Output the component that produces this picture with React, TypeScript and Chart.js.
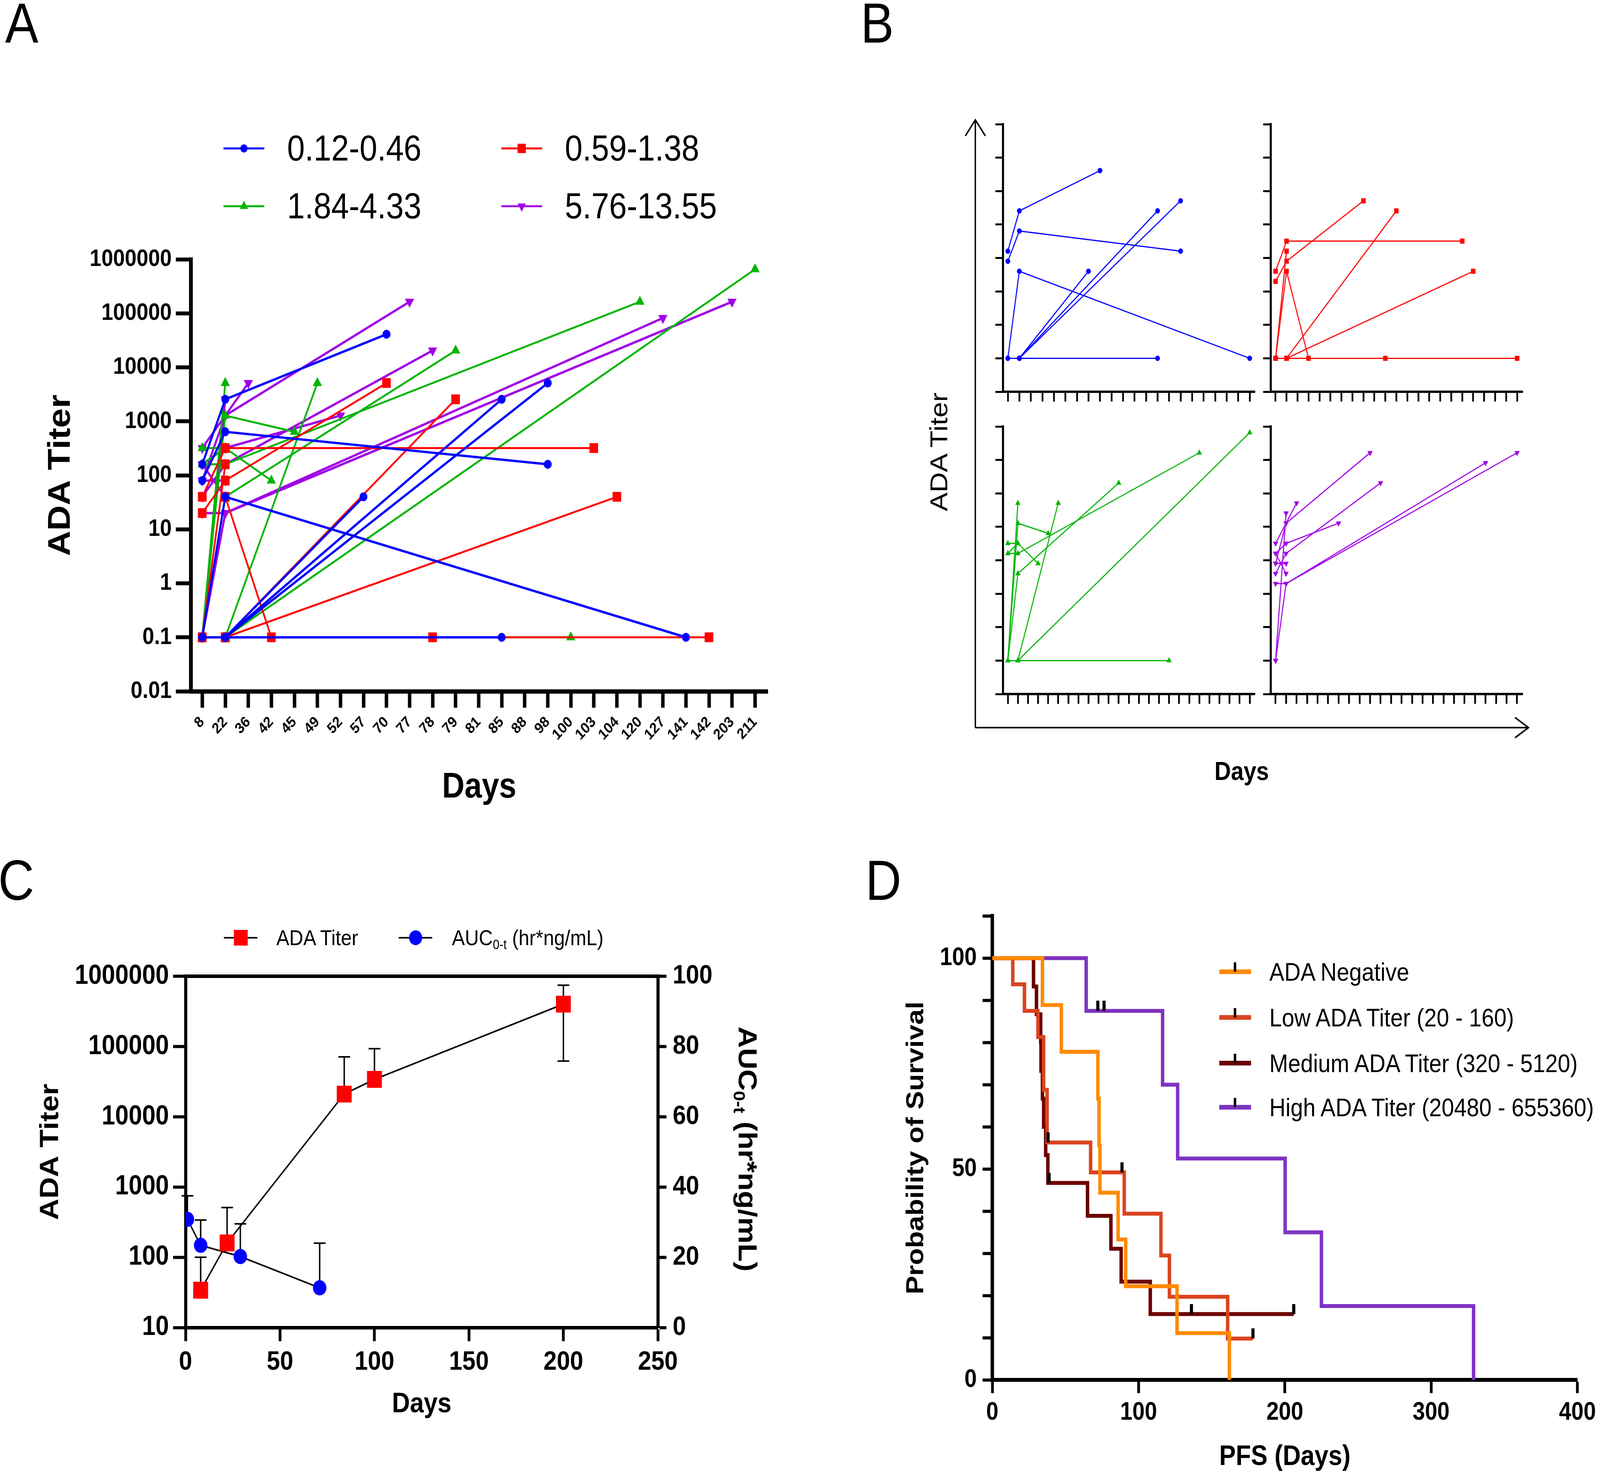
import React, { useEffect, useRef, useState } from 'react';
import Chart from 'chart.js/auto';

const FONT = "'Liberation Sans', Arial, Helvetica, sans-serif";
const INK = '#000000';
const PAGE_W = 4631;
const PAGE_H = 3774;

// ---------- panels A and B: ADA titer per patient ----------
const DAYS = [8, 22, 36, 42, 45, 49, 52, 57, 70, 77, 78, 79, 81, 85, 88, 98, 100, 103, 104, 120, 127, 141, 142, 203, 211];
const TITER_TICKS = [0.01, 0.1, 1, 10, 100, 1000, 10000, 100000, 1000000];

const GROUP_LABELS = ['0.12-0.46', '0.59-1.38', '1.84-4.33', '5.76-13.55'];
const GROUP_COLORS = ['#0000FF', '#FF0000', '#00B400', '#A000E6'];
const GROUP_MARKERS = ['circle', 'rect', 'triangle', 'triangle'];
const GROUP_MARKER_ROT = [0, 0, 0, 180];

// [day, titer] per patient, 0.1 = negative
const BLUE_PATIENTS = [
  [[8, 0.1], [22, 0.1], [85, 0.1]],
  [[8, 0.1], [22, 40], [141, 0.1]],
  [[8, 160], [22, 2560], [70, 40960]],
  [[8, 80], [22, 640], [98, 160]],
  [[22, 0.1], [57, 40]],
  [[22, 0.1], [85, 2560]],
  [[22, 0.1], [98, 5120]],
];
const RED_PATIENTS = [
  [[8, 40], [22, 320], [103, 320]],
  [[8, 20], [22, 80], [70, 5120]],
  [[8, 0.1], [22, 160]],
  [[8, 0.1], [22, 40], [42, 0.1]],
  [[22, 0.1], [79, 2560]],
  [[22, 0.1], [104, 40]],
  [[8, 0.1], [22, 0.1], [78, 0.1]],
  [[22, 0.1], [142, 0.1]],
];
const GREEN_PATIENTS = [
  [[8, 320], [22, 320], [42, 80]],
  [[8, 160], [22, 160], [120, 163840]],
  [[8, 0.1], [22, 40], [79, 20480]],
  [[8, 0.1], [22, 5120]],
  [[8, 0.1], [22, 1280], [45, 640]],
  [[22, 0.1], [49, 5120]],
  [[22, 0.1], [211, 655360]],
  [[8, 0.1], [22, 0.1], [100, 0.1]],
  [[8, 160], [22, 320]],
];
const PURPLE_PATIENTS = [
  [[8, 320], [22, 1280], [77, 163840]],
  [[8, 0.1], [22, 2560]],
  [[8, 80], [22, 1280], [36, 5120]],
  [[8, 160], [22, 320], [52, 1280]],
  [[8, 40], [22, 160], [78, 20480]],
  [[8, 0.1], [22, 20], [127, 81920]],
  [[8, 20], [22, 20], [203, 163840]],
  [[8, 80], [22, 80]],
  [[8, 160], [22, 40]],
];
const GROUPS = [BLUE_PATIENTS, RED_PATIENTS, GREEN_PATIENTS, PURPLE_PATIENTS];

// ---------- panel C ----------
const ADA_DAYS = [8, 22, 84, 100, 200];
const ADA_MEAN = [34, 160, 21000, 34000, 400000];
const ADA_UPPER = [100, 510, 71000, 93000, 745000];
const ADA_LOWER = [null, null, null, null, 62000];
const AUC_DAYS = [1, 8, 29, 71];
const AUC_MEAN = [30.8, 23.4, 20.2, 11.3];
const AUC_UPPER = [37.5, 30.6, 29.5, 24.0];
const C_LOG_TICKS = [10, 100, 1000, 10000, 100000, 1000000];

// ---------- panel D ----------
const KM_LABELS = ['ADA Negative', 'Low ADA Titer (20 - 160)', 'Medium ADA Titer (320 - 5120)', 'High ADA Titer (20480 - 655360)'];
const KM_COLORS = ['#FF8A00', '#D9441E', '#6B0000', '#7E33C1'];
const NEG_T = [0, 34.3, 47.2, 72.2, 73.0, 73.6, 86, 91.2, 126.3, 162.1];
const NEG_S = [100, 88.9, 77.8, 66.7, 55.6, 44.4, 33.3, 22.2, 11.1, 0];
const LOW_T = [0, 14, 22, 31.2, 35.1, 37.5, 67.2, 90.2, 115.3, 121.1, 160.9, 178.1];
const LOW_S = [100, 93.8, 87.5, 81.3, 68.8, 56.3, 49.2, 39.4, 29.5, 19.7, 9.8, 9.8];
const LOW_CENSOR_T = [38.2, 88.6, 178.1];
const LOW_CENSOR_S = [56.3, 49.2, 9.8];
const MED_T = [0, 28.2, 30.2, 33.1, 33.3, 34.3, 35.1, 36.5, 38.0, 65.1, 81.1, 88.1, 108, 206.1];
const MED_S = [100, 93.3, 86.7, 80, 73.3, 66.7, 60, 53.3, 46.7, 38.9, 31.1, 23.3, 15.6, 15.6];
const MED_CENSOR_T = [38.8, 136.2, 206.1];
const MED_CENSOR_S = [46.7, 15.6, 15.6];
const HIGH_T = [0, 64.2, 116.4, 126.7, 200.2, 225, 329];
const HIGH_S = [100, 87.5, 70, 52.5, 35, 17.5, 0];
const HIGH_CENSOR_T = [72.2, 76.4];
const HIGH_CENSOR_S = [87.5, 87.5];

type Box = { x: number; y: number; w: number; h: number };
type Area = { l: number; t: number; r: number; b: number };

const font = (size: number, bold = true) => ({ family: FONT, size, weight: bold ? 'bold' : 'normal' });

const ChartCanvas: React.FC<{ box: Box; make: () => any }> = ({ box, make }) => {
  const ref = useRef<HTMLCanvasElement>(null);
  useEffect(() => {
    if (!ref.current) return;
    const chart = new Chart(ref.current, make());
    return () => chart.destroy();
  }, []);
  return (
    <canvas
      ref={ref}
      width={box.w}
      height={box.h}
      style={{ position: 'absolute', left: box.x, top: box.y, width: box.w, height: box.h }}
    />
  );
};

const baseOptions = (box: Box, area: Area, right = true) => ({
  animation: false,
  responsive: false,
  devicePixelRatio: 1,
  events: [],
  layout: { padding: { top: area.t - box.y, right: right ? box.x + box.w - area.r : 0, left: 0, bottom: 0 } },
  plugins: { legend: { display: false }, tooltip: { enabled: false } },
});

const tickGrid = (len: number, width: number) => ({
  display: true,
  drawOnChartArea: false,
  drawTicks: true,
  tickLength: len,
  tickWidth: width,
  tickColor: INK,
});

type TiterOpts = {
  box: Box; area: Area; groups: number[]; xMin: number; xMax: number; nTicks: number;
  text: boolean; lineWidths: number[]; radii: number[]; tickX: number; tickY: number; tickW: number; borderW: number;
};

function titerConfig(o: TiterOpts) {
  const datasets: any[] = [];
  o.groups.forEach((g) => {
    GROUPS[g].forEach((p) => {
      datasets.push({
        data: p.map(([d, v]) => ({ x: DAYS.indexOf(d), y: v })),
        borderColor: GROUP_COLORS[g],
        backgroundColor: GROUP_COLORS[g],
        pointBackgroundColor: GROUP_COLORS[g],
        pointBorderColor: GROUP_COLORS[g],
        pointBorderWidth: 1,
        borderWidth: o.lineWidths[g],
        pointStyle: GROUP_MARKERS[g],
        pointRotation: GROUP_MARKER_ROT[g],
        pointRadius: o.radii[g],
        tension: 0,
        fill: false,
      });
    });
  });
  return {
    type: 'line',
    data: { datasets },
    options: {
      ...baseOptions(o.box, o.area),
      scales: {
        x: {
          type: 'linear',
          min: o.xMin,
          max: o.xMax,
          afterBuildTicks: (s: any) => { s.ticks = DAYS.slice(0, o.nTicks).map((_, i) => ({ value: i })); },
          afterFit: (s: any) => { s.height = o.box.y + o.box.h - o.area.b; },
          ticks: {
            display: o.text, autoSkip: false, minRotation: 45, maxRotation: 45, padding: 14,
            color: INK, font: font(39), callback: (v: number) => String(DAYS[v]),
          },
          grid: tickGrid(o.tickX, o.tickW),
          border: { display: true, color: INK, width: o.borderW },
          title: o.text
            ? { display: true, text: 'Days', color: INK, font: font(90), padding: { top: 0, bottom: 29 } }
            : { display: false },
        },
        y: {
          type: 'logarithmic',
          min: 0.01,
          max: 1000000,
          afterBuildTicks: (s: any) => { s.ticks = TITER_TICKS.map((v) => ({ value: v })); },
          afterFit: (s: any) => { s.width = o.area.l - o.box.x; },
          ticks: { display: o.text, padding: 12, color: INK, font: font(61), callback: (v: number) => String(v) },
          grid: tickGrid(o.tickY, o.tickW),
          border: { display: true, color: INK, width: o.borderW },
          title: o.text
            ? { display: true, text: 'ADA Titer', color: INK, font: font(90), padding: { top: 123, bottom: 0 } }
            : { display: false },
        },
      },
    },
  };
}

const A_BOX = { x: 0, y: 560, w: 2300, h: 1540 };
const A_AREA = { l: 552, t: 664, r: 2222, b: 1770 };

const B_PANELS = [
  { g: 0, box: { x: 2860, y: 290, w: 792, h: 750 }, area: { l: 2903, t: 318, r: 3632, b: 1003 }, min: -0.42, max: 21.45, n: 22 },
  { g: 1, box: { x: 3635, y: 290, w: 792, h: 750 }, area: { l: 3678, t: 318, r: 4407, b: 1003 }, min: -0.44, max: 22.5, n: 23 },
  { g: 2, box: { x: 2860, y: 1064, w: 792, h: 750 }, area: { l: 2903, t: 1092, r: 3632, b: 1777 }, min: -0.48, max: 24.51, n: 25 },
  { g: 3, box: { x: 3635, y: 1064, w: 792, h: 750 }, area: { l: 3678, t: 1092, r: 4407, b: 1777 }, min: -0.46, max: 23.53, n: 24 },
];

// ---------- panel C ----------
const errorBarPlugin = {
  id: 'errorBars',
  beforeDatasetsDraw(chart: any) {
    const { ctx } = chart;
    const xs = chart.scales.x;
    const ys = chart.scales.y;
    const y2 = chart.scales.y2;
    const bar = (px: number, from: number, to: number) => {
      ctx.beginPath();
      ctx.moveTo(px, from);
      ctx.lineTo(px, to);
      ctx.moveTo(px - 17, to);
      ctx.lineTo(px + 17, to);
      ctx.stroke();
    };
    ctx.save();
    ctx.strokeStyle = INK;
    ctx.lineWidth = 4;
    ADA_DAYS.forEach((d, i) => {
      const px = xs.getPixelForValue(d);
      const py = ys.getPixelForValue(ADA_MEAN[i]);
      bar(px, py, ys.getPixelForValue(ADA_UPPER[i]));
      const lo = ADA_LOWER[i];
      if (lo != null) bar(px, py, ys.getPixelForValue(lo));
    });
    AUC_DAYS.forEach((d, i) => {
      const px = xs.getPixelForValue(d);
      bar(px, y2.getPixelForValue(AUC_MEAN[i]), y2.getPixelForValue(AUC_UPPER[i]));
    });
    ctx.restore();
  },
};

const C_BOX = { x: 0, y: 2440, w: 2300, h: 1260 };
const C_AREA = { l: 537, t: 2486, r: 1904, b: 3399 };

function cConfig() {
  return {
    type: 'line',
    data: {
      datasets: [
        {
          label: 'ADA Titer',
          data: ADA_DAYS.map((x, i) => ({ x, y: ADA_MEAN[i] })),
          yAxisID: 'y', borderColor: INK, borderWidth: 4, tension: 0,
          pointStyle: 'rect', pointRadius: 30.5, pointBackgroundColor: '#FF0000', pointBorderColor: '#FF0000', pointBorderWidth: 0,
        },
        {
          label: 'AUC0-t (hr*ng/mL)',
          data: AUC_DAYS.map((x, i) => ({ x, y: AUC_MEAN[i] })),
          yAxisID: 'y2', borderColor: INK, borderWidth: 4, tension: 0,
          pointStyle: 'circle', pointRadius: 19.5, pointBackgroundColor: '#0000FF', pointBorderColor: '#0000FF', pointBorderWidth: 0,
        },
      ],
    },
    options: {
      ...baseOptions(C_BOX, C_AREA, false),
      scales: {
        x: {
          type: 'linear', min: 0, max: 250,
          afterFit: (s: any) => { s.height = C_BOX.y + C_BOX.h - C_AREA.b; },
          ticks: { stepSize: 50, padding: 13, color: INK, font: font(69) },
          grid: tickGrid(35, 8),
          border: { display: true, color: INK, width: 9 },
          title: { display: true, text: 'Days', color: INK, font: font(72), padding: { top: 0, bottom: 61 } },
        },
        xTop: {
          type: 'linear', position: 'top', min: 0, max: 250,
          afterFit: (s: any) => { s.height = 0; },
          ticks: { display: false },
          grid: { display: false, drawTicks: false },
          border: { display: true, color: INK, width: 9 },
        },
        y: {
          type: 'logarithmic', position: 'left', min: 10, max: 1000000,
          afterBuildTicks: (s: any) => { s.ticks = C_LOG_TICKS.map((v) => ({ value: v })); },
          afterFit: (s: any) => { s.width = C_AREA.l - C_BOX.x; },
          ticks: { padding: 12, color: INK, font: font(70), callback: (v: number) => String(v) },
          grid: tickGrid(36, 8),
          border: { display: true, color: INK, width: 9 },
          title: { display: true, text: 'ADA Titer', color: INK, font: font(76), padding: { top: 101, bottom: 0 } },
        },
        y2: {
          type: 'linear', position: 'right', min: 0, max: 100,
          afterFit: (s: any) => { s.width = C_BOX.x + C_BOX.w - C_AREA.r; },
          ticks: { stepSize: 20, padding: 18, color: INK, font: font(69) },
          grid: tickGrid(25, 8),
          border: { display: true, color: INK, width: 9 },
        },
      },
    },
    plugins: [errorBarPlugin],
  };
}

// ---------- panel D ----------
const D_BOX = { x: 2560, y: 2290, w: 2071, h: 1484 };
const D_AREA = { l: 2872, t: 2340, r: 4578, b: 3533 };

function censorTick() {
  const c = document.createElement('canvas');
  c.width = 9;
  c.height = 52;
  const g = c.getContext('2d');
  if (g) {
    g.fillStyle = INK;
    g.fillRect(0, 0, 9, 26);
  }
  return c;
}

function dConfig() {
  const curves = [[NEG_T, NEG_S], [LOW_T, LOW_S], [MED_T, MED_S], [HIGH_T, HIGH_S]];
  const censors = [[LOW_CENSOR_T, LOW_CENSOR_S], [MED_CENSOR_T, MED_CENSOR_S], [HIGH_CENSOR_T, HIGH_CENSOR_S]];
  const tick = censorTick();
  const datasets: any[] = curves.map(([t, s], i) => ({
    label: KM_LABELS[i],
    data: t.map((x, j) => ({ x, y: s[j] })),
    stepped: true,
    borderColor: KM_COLORS[i],
    borderWidth: 10,
    borderJoinStyle: 'miter',
    borderCapStyle: 'butt',
    pointRadius: 0,
    fill: false,
    order: i + 1,
  }));
  censors.forEach(([t, s]) => {
    datasets.push({
      data: t.map((x, j) => ({ x, y: s[j] })),
      showLine: false,
      pointStyle: tick,
      pointRadius: 5,
      order: 0,
    });
  });
  return {
    type: 'line',
    data: { datasets },
    options: {
      ...baseOptions(D_BOX, D_AREA),
      scales: {
        x: {
          type: 'linear', min: 0, max: 400,
          afterFit: (s: any) => { s.height = D_BOX.y + D_BOX.h - D_AREA.b; },
          ticks: { stepSize: 100, padding: 12, color: INK, font: font(64) },
          grid: tickGrid(34, 8),
          border: { display: true, color: INK, width: 10 },
          title: { display: true, text: 'PFS (Days)', color: INK, font: font(72), padding: { top: 0, bottom: 0 } },
        },
        y: {
          type: 'linear', min: 0, max: 110,
          afterFit: (s: any) => { s.width = D_AREA.l - D_BOX.x; },
          ticks: { stepSize: 5, padding: 17, color: INK, font: font(64), callback: (v: number) => (v % 50 === 0 ? String(v) : '') },
          grid: tickGrid(28, 8),
          border: { display: true, color: INK, width: 10 },
          title: { display: true, text: 'Probability of Survival', color: INK, font: font(71), padding: { top: 50, bottom: 0 } },
        },
      },
    },
  };
}

// ---------- html text ----------
const Txt: React.FC<{
  x: number; y: number; size: number; bold?: boolean; center?: boolean; rotate?: number;
  children: React.ReactNode;
}> = ({ x, y, size, bold, center, rotate = 0, children }) => (
  <div
    style={{
      position: 'absolute', left: x, top: y, fontFamily: FONT, fontSize: size, fontWeight: bold ? 700 : 400,
      lineHeight: 1, whiteSpace: 'nowrap', color: INK,
      transformOrigin: center ? '50% 50%' : '0 50%',
      transform: `translate(${center ? '-50%' : '0'}, -50%) rotate(${rotate}deg)`,
    }}
  >
    {children}
  </div>
);

const marker = (kind: number, cx: number, cy: number, color: string) => {
  if (kind === 0) return <circle cx={cx} cy={cy} r={10.5} fill={color} />;
  if (kind === 1) return <rect x={cx - 12} y={cy - 12} width={24} height={24} fill={color} />;
  if (kind === 2) return <polygon points={`${cx},${cy - 14} ${cx + 12},${cy + 7} ${cx - 12},${cy + 7}`} fill={color} />;
  return <polygon points={`${cx},${cy + 14} ${cx + 12},${cy - 7} ${cx - 12},${cy - 7}`} fill={color} />;
};

const A_LEGEND_POS = [[647, 380], [1451, 380], [647, 528], [1451, 528]];
const D_LEGEND_Y = [2488, 2605, 2722, 2835];
const SUB = { fontSize: '0.62em', verticalAlign: '-0.3em', lineHeight: 0 };

const Overlay: React.FC = () => (
  <svg width={PAGE_W} height={PAGE_H} style={{ position: 'absolute', left: 0, top: 0 }}>
    {A_LEGEND_POS.map(([x, y], i) => (
      <g key={i}>
        <line x1={x} y1={y} x2={x + 118} y2={y} stroke={GROUP_COLORS[i]} strokeWidth={5} />
        {marker(i, x + 59, y, GROUP_COLORS[i])}
      </g>
    ))}
    <g stroke={INK} strokeWidth={4} fill="none">
      <line x1={2823} y1={1863} x2={2823} y2={309} />
      <polyline points="2794,348 2823,307 2852,348" />
      <line x1={2823} y1={1863} x2={4422} y2={1863} />
      <polyline points="4385,1837 4424,1863 4385,1889" />
    </g>
    <line x1={648} y1={2401} x2={745} y2={2401} stroke={INK} strokeWidth={4} />
    <rect x={677} y={2381} width={40} height={40} fill="#FF0000" />
    <line x1={1154} y1={2401} x2={1251} y2={2401} stroke={INK} strokeWidth={4} />
    <circle cx={1203} cy={2401} r={19} fill="#0000FF" />
    {D_LEGEND_Y.map((y, i) => (
      <g key={i}>
        <line x1={3529} y1={y} x2={3621} y2={y} stroke={KM_COLORS[i]} strokeWidth={12} />
        <rect x={3571} y={y - 24} width={7} height={24} fill={INK} />
      </g>
    ))}
  </svg>
);

// the figure is laid out on a 4631 x 3774 grid and stretched to whatever viewport we get
const fitScale = () =>
  typeof window === 'undefined'
    ? { sx: 1, sy: 1 }
    : { sx: window.innerWidth / PAGE_W, sy: window.innerHeight / PAGE_H };

export default function App() {
  const [k, setK] = useState(fitScale);
  useEffect(() => {
    document.body.style.margin = '0';
    document.body.style.overflow = 'hidden';
    const onResize = () => setK(fitScale());
    window.addEventListener('resize', onResize);
    onResize();
    return () => window.removeEventListener('resize', onResize);
  }, []);
  return (
    <div style={{ position: 'fixed', left: 0, top: 0, width: PAGE_W * k.sx, height: PAGE_H * k.sy, overflow: 'hidden', background: '#ffffff' }}>
      <div style={{ position: 'absolute', left: 0, top: 0, width: PAGE_W, height: PAGE_H, transform: `scale(${k.sx}, ${k.sy})`, transformOrigin: '0 0' }}>
        <Overlay />
        <ChartCanvas
          box={A_BOX}
          make={() => titerConfig({
            box: A_BOX, area: A_AREA, groups: [0, 1, 2, 3], xMin: -0.5, xMax: 24.55, nTicks: 25, text: true,
            lineWidths: [6, 5, 5, 6], radii: [11, 17, 14.5, 14.5], tickX: 42, tickY: 43, tickW: 10, borderW: 11,
          })}
        />
        {B_PANELS.map((p) => (
          <ChartCanvas
            key={p.g}
            box={p.box}
            make={() => titerConfig({
              box: p.box, area: p.area, groups: [p.g], xMin: p.min, xMax: p.max, nTicks: p.n, text: false,
              lineWidths: [3, 3, 3, 3], radii: [6.5, 8.5, 8, 8], tickX: 25, tickY: 22, tickW: 5, borderW: 6,
            })}
          />
        ))}
        <ChartCanvas box={C_BOX} make={cConfig} />
        <ChartCanvas box={D_BOX} make={dConfig} />

        <Txt x={15} y={60} size={144}>A</Txt>
        <Txt x={2491} y={60} size={144}>B</Txt>
        <Txt x={-5} y={2255} size={144}>C</Txt>
        <Txt x={2505} y={2255} size={144}>D</Txt>

        {A_LEGEND_POS.map(([x, y], i) => (
          <Txt key={i} x={x + 184} y={y - 1} size={92}>{GROUP_LABELS[i]}</Txt>
        ))}

        <Txt x={2717} y={1157} size={72} center rotate={-90}>ADA Titer</Txt>
        <Txt x={3594} y={1974} size={66} bold center>Days</Txt>

        <Txt x={800} y={2401} size={56}>ADA Titer</Txt>
        <Txt x={1308} y={2401} size={56}>
          AUC<sub style={SUB}>0-t</sub> (hr*ng/mL)
        </Txt>
        <Txt x={2164} y={2942} size={76} bold center rotate={90}>
          AUC<sub style={SUB}>0-t</sub> (hr*ng/mL)
        </Txt>

        {D_LEGEND_Y.map((y, i) => (
          <Txt key={i} x={3674} y={y} size={65}>{KM_LABELS[i]}</Txt>
        ))}
      </div>
    </div>
  );
}
